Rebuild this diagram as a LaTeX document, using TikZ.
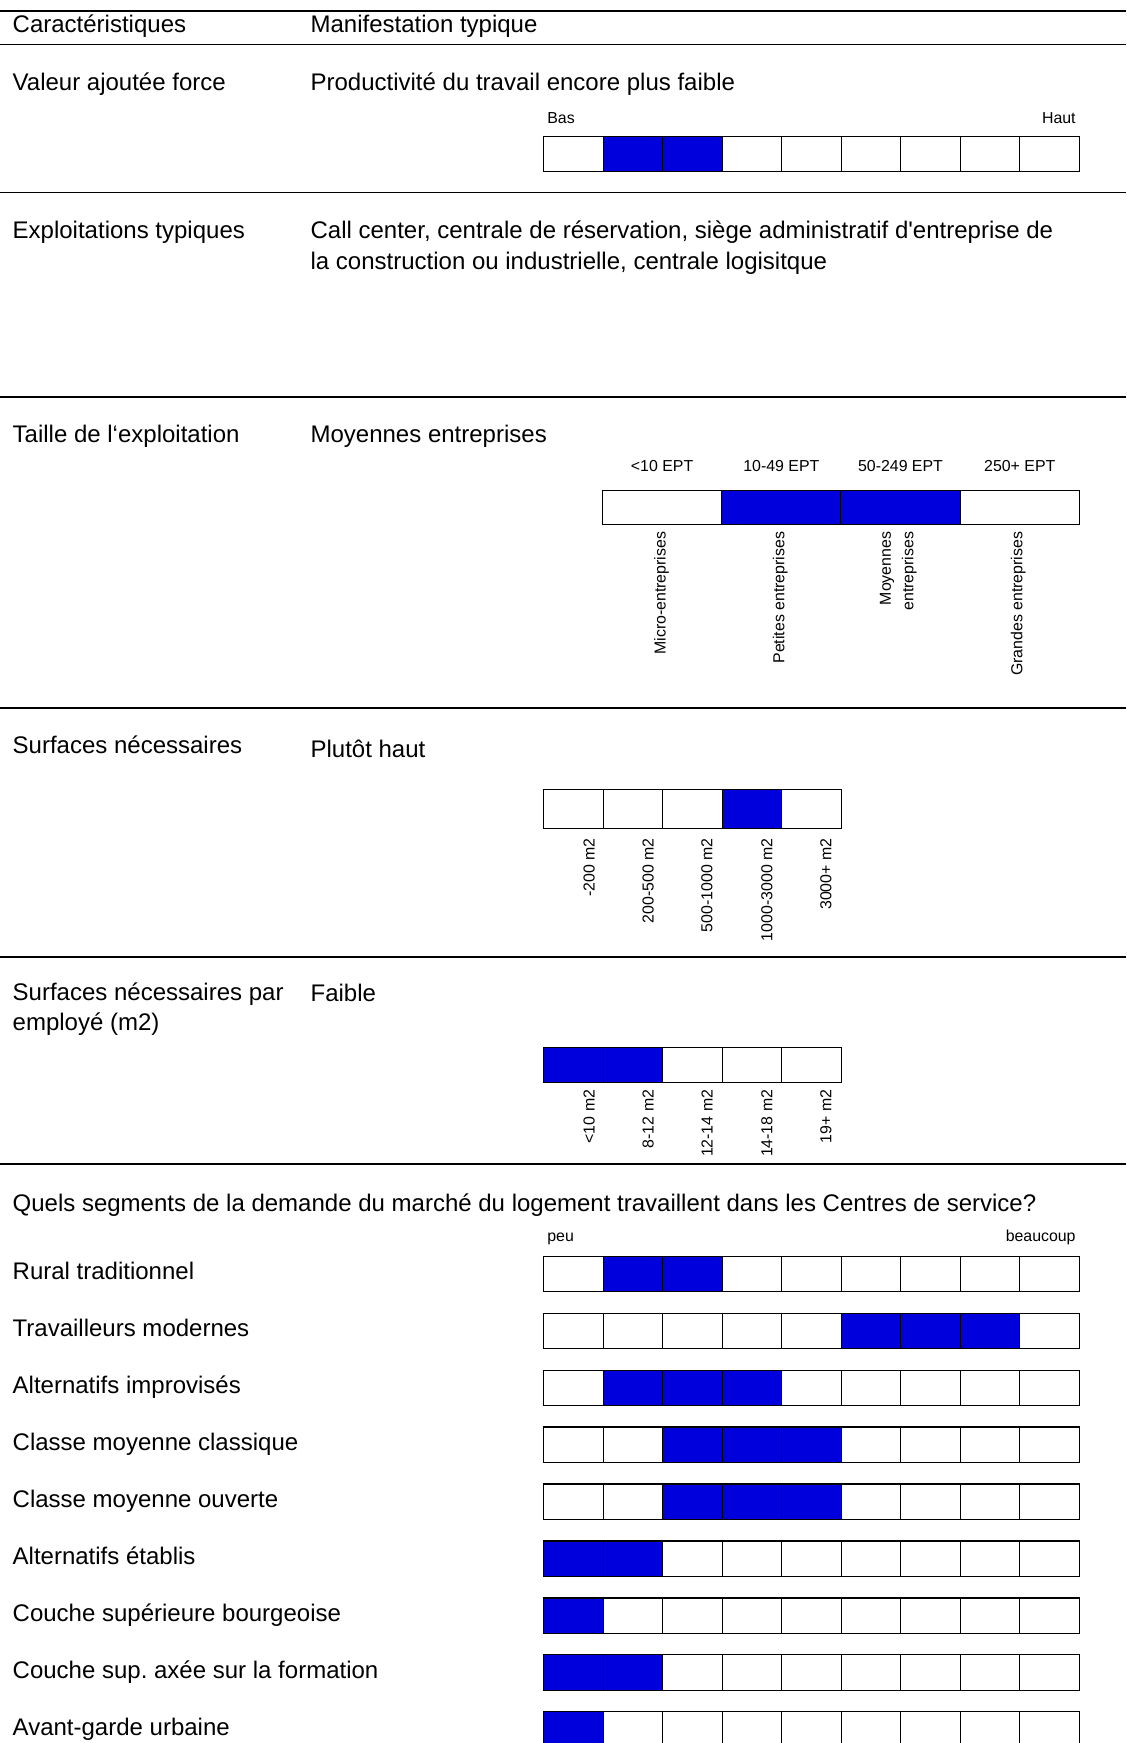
\documentclass[tikz,border=0pt]{standalone}
\usepackage{fontspec}
\setmainfont{Liberation Sans}
\newfontfamily\plainap{Liberation Sans}
\frenchspacing
\definecolor{barblue}{RGB}{0,0,220}
\tikzset{
 lbl/.style={anchor=base west, inner sep=0pt, font=\fontsize{10.8}{13}\selectfont},
 small/.style={inner sep=0pt, font=\fontsize{7.15}{8.6}\selectfont},
 vlbl/.style={small, rotate=90, anchor=east},
 rulel/.style={line width=0.6pt, draw=black},
 cell/.style={line width=0.5pt, draw=black},
 fillcell/.style={fill=barblue},
}
% #1 x0, #2 ytop, #3 ybot, #4 cell width, #5 number of cells, #6 filled cells
\newcommand{\cellrow}[6]{%
  \foreach \ff in {#6} {\fill[fillcell] ({#1+(\ff-1)*#4},#2) rectangle ({#1+\ff*#4},#3);}
  \foreach \ii in {1,...,#5} {\draw[cell] ({#1+(\ii-1)*#4},#2) rectangle ({#1+\ii*#4},#3);}
}
\begin{document}
\begin{tikzpicture}[x=0.5pt,y=-0.5pt]
\useasboundingbox (0,0) rectangle (1013,1568);

% horizontal rules
\foreach \yy in {10,40,173,357,637,861,1047}
  \draw[rulel] (0,\yy) -- (1013,\yy);

% header
\node[lbl] (h1) at (11,29) {Caractéristiques};
\node[lbl] (h2) at (279,29) {Manifestation typique};

% Valeur ajoutee
\node[lbl] (va) at (11,81) {Valeur ajoutée force};
\node[lbl] (vb) at (279,81) {Productivité du travail encore plus faible};
\node[small, anchor=base west] (bas) at (492,111) {Bas};
\node[small, anchor=base east] (haut) at (968,111) {Haut};
\cellrow{489}{123}{154}{53.555}{9}{2,3}

% Exploitations
\node[lbl] (ea) at (11,215) {Exploitations typiques};
\node[lbl] (eb1) at (279,215) {Call center, centrale de réservation, siège administratif d{\plainap'}entreprise de};
\node[lbl] (eb2) at (279,242) {la construction ou industrielle, centrale logisitque};

% Taille
\node[lbl] (ta) at (11,398) {Taille de l‘exploitation};
\node[lbl] (tb) at (279,398) {Moyennes entreprises};
\node[small, anchor=base] (t1) at (595.6,424) {<10 EPT};
\node[small, anchor=base] (t2) at (702.9,424) {10-49 EPT};
\node[small, anchor=base] (t3) at (810.1,424) {50-249 EPT};
\node[small, anchor=base] (t4) at (917.4,424) {250+ EPT};
\cellrow{542}{441}{472}{107.25}{4}{2,3}
\node[vlbl] (tv1) at (595,478) {Micro-entreprises};
\node[vlbl] (tv2) at (702,478) {Petites entreprises};
\node[vlbl] (tv3a) at (798,478) {Moyennes};
\node[vlbl] (tv3b) at (818,478) {entreprises};
\node[vlbl] (tv4) at (916,478) {Grandes entreprises};

% Surfaces
\node[lbl] (sa) at (11,678) {Surfaces nécessaires};
\node[lbl] (sb) at (279,681) {Plutôt haut};
\cellrow{489}{710}{745}{53.6}{5}{4}
\node[vlbl] (s1) at (530,754) {-200 m2};
\node[vlbl] (s2) at (583,754) {200-500 m2};
\node[vlbl] (s3) at (636,754) {500-1000 m2};
\node[vlbl] (s4) at (690,754) {1000-3000 m2};
\node[vlbl] (s5) at (743,754) {3000+ m2};

% Surfaces par employe
\node[lbl] (pa1) at (11,900) {Surfaces nécessaires par};
\node[lbl] (pa2) at (11,927) {employé (m2)};
\node[lbl] (pb) at (279,901) {Faible};
\cellrow{489}{942}{974}{53.6}{5}{1,2}
\node[vlbl] (p1) at (530,980) {<10 m2};
\node[vlbl] (p2) at (583,980) {8-12 m2};
\node[vlbl] (p3) at (636,980) {12-14 m2};
\node[vlbl] (p4) at (690,980) {14-18 m2};
\node[vlbl] (p5) at (743,980) {19+ m2};

% Segments
\node[lbl] (q) at (11,1090) {Quels segments de la demande du marché du logement travaillent dans les Centres de service?};
\node[small, anchor=base west] (peu) at (492,1117) {peu};
\node[small, anchor=base east] (beau) at (968,1117) {beaucoup};

\node[lbl] (r1) at (11,1151) {Rural traditionnel};
\cellrow{489}{1130}{1162}{53.555}{9}{2,3}
\node[lbl] (r2) at (11,1202.5) {Travailleurs modernes};
\cellrow{489}{1181.25}{1213.25}{53.555}{9}{6,7,8}
\node[lbl] (r3) at (11,1253.5) {Alternatifs improvisés};
\cellrow{489}{1232.5}{1264.5}{53.555}{9}{2,3,4}
\node[lbl] (r4) at (11,1305) {Classe moyenne classique};
\cellrow{489}{1283.75}{1315.75}{53.555}{9}{3,4,5}
\node[lbl] (r5) at (11,1356) {Classe moyenne ouverte};
\cellrow{489}{1335}{1367}{53.555}{9}{3,4,5}
\node[lbl] (r6) at (11,1407) {Alternatifs établis};
\cellrow{489}{1386.25}{1418.25}{53.555}{9}{1,2}
\node[lbl] (r7) at (11,1458.5) {Couche supérieure bourgeoise};
\cellrow{489}{1437.5}{1469.5}{53.555}{9}{1}
\node[lbl] (r8) at (11,1510) {Couche sup.\ axée sur la formation};
\cellrow{489}{1488.75}{1520.75}{53.555}{9}{1,2}
\node[lbl] (r9) at (11,1561) {Avant-garde urbaine};
\cellrow{489}{1540}{1575}{53.555}{9}{1}
\end{tikzpicture}
\end{document}
